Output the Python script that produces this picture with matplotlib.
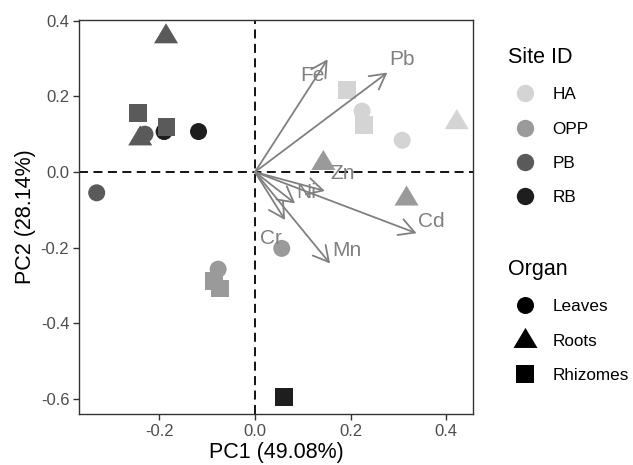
import matplotlib
matplotlib.use("Agg")
import matplotlib.pyplot as plt
from matplotlib.lines import Line2D
import numpy as np

plt.rcParams['font.family'] = ['Liberation Sans', 'DejaVu Sans']

# PCA scores
site = ['HA', 'HA', 'HA', 'HA', 'HA',
        'OPP', 'OPP', 'OPP', 'OPP', 'OPP', 'OPP',
        'PB', 'PB', 'PB', 'PB', 'PB', 'PB',
        'RB', 'RB', 'RB']
organ = ['Leaves', 'Leaves', 'Roots', 'Rhizomes', 'Rhizomes',
         'Leaves', 'Leaves', 'Roots', 'Roots', 'Rhizomes', 'Rhizomes',
         'Leaves', 'Leaves', 'Roots', 'Roots', 'Rhizomes', 'Rhizomes',
         'Leaves', 'Leaves', 'Rhizomes']
pc1 = [0.224, 0.308, 0.422, 0.192, 0.228,
       0.056, -0.077, 0.143, 0.317, -0.085, -0.073,
       -0.230, -0.331, -0.186, -0.240, -0.245, -0.185,
       -0.190, -0.118, 0.061]
pc2 = [0.161, 0.084, 0.133, 0.217, 0.124,
       -0.202, -0.257, 0.025, -0.069, -0.288, -0.308,
       0.100, -0.055, 0.360, 0.090, 0.156, 0.119,
       0.107, 0.107, -0.594]

# loadings (arrow tips) and label positions
variables = ['Fe', 'Pb', 'Zn', 'Ni', 'Cd', 'Mn', 'Cr']
load1 = [0.152, 0.277, 0.146, 0.084, 0.338, 0.157, 0.063]
load2 = [0.298, 0.263, -0.050, -0.083, -0.162, -0.242, -0.127]
lab1 = [0.120, 0.308, 0.183, 0.108, 0.368, 0.192, 0.033]
lab2 = [0.255, 0.298, -0.004, -0.055, -0.131, -0.208, -0.175]

sites = ['HA', 'OPP', 'PB', 'RB']
site_colors = ['#d4d4d4', '#9a9a9a', '#5a5a5a', '#1e1e1e']
organs = ['Leaves', 'Roots', 'Rhizomes']
tri = [(-1, -0.62), (1, -0.62), (0, 1.05)]
organ_markers = ['o', tri, 's']
organ_sizes = [150, 330, 165]

fig = plt.figure(figsize=(6.33, 4.65), dpi=100)
ax = fig.add_axes([79 / 633, 1 - 414 / 465, 394 / 633, 394 / 465])

ax.axhline(0, color='black', lw=1.3, ls=(0, (5, 3)), zorder=1)
ax.axvline(0, color='black', lw=1.3, ls=(0, (5, 3)), zorder=1)

cmap = dict(zip(sites, site_colors))
for o, m, s in zip(organs, organ_markers, organ_sizes):
    idx = [i for i in range(len(site)) if organ[i] == o]
    ax.scatter([pc1[i] for i in idx], [pc2[i] for i in idx],
               c=[cmap[site[i]] for i in idx], marker=m, s=s,
               linewidths=0, zorder=2)

for v, x, y, lx, ly in zip(variables, load1, load2, lab1, lab2):
    ax.annotate('', xy=(x, y), xytext=(0, 0),
                arrowprops=dict(arrowstyle='->,head_length=0.55,head_width=0.3',
                                color='#808080', lw=1.3, shrinkA=0, shrinkB=0,
                                mutation_scale=20), zorder=3)
    ax.text(lx, ly, v, color='#808080', fontsize=15, ha='center', va='center',
            zorder=4)

ax.set_xlim(-0.368, 0.456)
ax.set_ylim(-0.640, 0.402)
ax.set_xticks([-0.2, 0.0, 0.2, 0.4])
ax.set_yticks([-0.6, -0.4, -0.2, 0.0, 0.2, 0.4])
ax.set_xticklabels(['-0.2', '0.0', '0.2', '0.4'])
ax.set_yticklabels(['-0.6', '-0.4', '-0.2', '0.0', '0.2', '0.4'])
ax.tick_params(labelsize=12, labelcolor='#4d4d4d', color='#333333',
               length=4, width=1, pad=3)
for sp in ax.spines.values():
    sp.set_color('#333333')
    sp.set_linewidth(1)
ax.set_xlabel('PC1 (49.08%)', fontsize=15.5, labelpad=2)
ax.set_ylabel('PC2 (28.14%)', fontsize=15.5, labelpad=3)

site_handles = [Line2D([], [], ls='', marker='o', color=c, markersize=12.5,
                       markeredgewidth=0) for c in site_colors]
organ_handles = [Line2D([], [], ls='', marker=m, color='black',
                        markersize=np.sqrt(s), markeredgewidth=0)
                 for m, s in zip(organ_markers, organ_sizes)]

leg_kw = dict(loc='upper left', frameon=False, fontsize=12.3,
              title_fontsize=15.5, alignment='left', handlelength=2.0,
              handletextpad=0.6, labelspacing=1.13, borderpad=0,
              borderaxespad=0)
leg1 = fig.legend(site_handles, sites, title='Site ID',
                  bbox_to_anchor=(508 / 633, 1 - 47 / 465), **leg_kw)
leg2 = fig.legend(organ_handles, organs, title='Organ',
                  bbox_to_anchor=(508 / 633, 1 - 259 / 465), **leg_kw)

fig.savefig('out.png', dpi=100)
